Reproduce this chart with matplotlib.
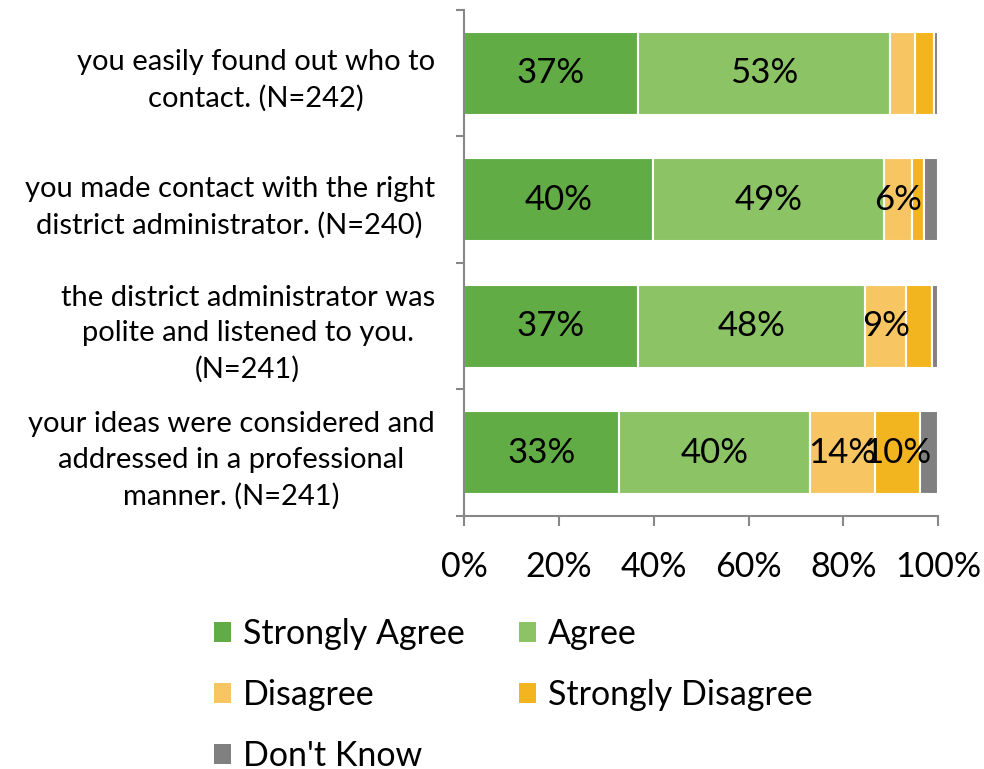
import numpy as np
import matplotlib.pyplot as plt
from matplotlib.patches import Patch

plt.rcParams['font.family'] = ['Lato', 'DejaVu Sans']

# Survey data (percent of respondents)
questions = [
    'you easily found out who to\ncontact. (N=242)',
    'you made contact with the right\ndistrict administrator. (N=240)',
    'the district administrator was\npolite and listened to you.\n(N=241)',
    'your ideas were considered and\naddressed in a professional\nmanner. (N=241)',
]
strongly_agree = [36.7, 39.9, 36.6, 32.7]
agree = [53.2, 48.7, 48.0, 40.3]
disagree = [5.3, 5.9, 8.6, 13.6]
strongly_disagree = [3.8, 2.4, 5.4, 9.6]
dont_know = [1.0, 3.1, 1.4, 3.8]

series = ['Strongly Agree', 'Agree', 'Disagree', 'Strongly Disagree', "Don't Know"]
values = [strongly_agree, agree, disagree, strongly_disagree, dont_know]
colors = ['#62AC46', '#8CC465', '#F7C562', '#F2B51F', '#808080']
show_labels = [True, True, True, True, False]

fig = plt.figure(figsize=(9.84, 7.69), dpi=100)
ax = fig.add_axes([0.4715, 0.329, 0.482, 0.658])

y = np.arange(len(questions))
left = np.zeros(len(questions))
for name, vals, col, lab in zip(series, values, colors, show_labels):
    vals = np.array(vals)
    ax.barh(y, vals, left=left, height=0.66, color=col, edgecolor='white',
            linewidth=1.5, label=name)
    if lab:
        for yi, l, v in zip(y, left, vals):
            if v >= 5.8:
                ax.text(l + v / 2, yi, f'{v:.0f}%', ha='center', va='center',
                        fontsize=25, color='black')
    left += vals

ax.set_xlim(0, 100)
ax.set_ylim(len(questions) - 0.5, -0.5)
ax.set_xticks(np.arange(0, 101, 20))
ax.set_xticklabels([f'{t}%' for t in range(0, 101, 20)], fontsize=24.5)
ax.set_yticks(y)
ax.set_yticklabels(questions, fontsize=21, multialignment='center', linespacing=1.45)
ax.set_yticks(np.arange(-0.5, len(questions)), minor=True)

ax.tick_params(axis='y', which='major', length=0, pad=21)
ax.tick_params(axis='y', which='minor', length=6, color='#878787', width=1.5)
ax.tick_params(axis='x', length=7, color='#878787', width=1.5, pad=18)
for s in ['top', 'right']:
    ax.spines[s].set_visible(False)
for s in ['left', 'bottom']:
    ax.spines[s].set_color('#878787')
    ax.spines[s].set_linewidth(1.5)

# legend is filled row by row in the reference
order = [0, 2, 4, 1, 3]
handles = [Patch(facecolor=colors[i], label=series[i]) for i in order]
fig.legend(handles=handles, loc='upper left', bbox_to_anchor=(0.186, 0.236),
           ncol=2, frameon=False, fontsize=24.5, handlelength=0.5, handleheight=0.5,
           handletextpad=0.35, columnspacing=1.6, labelspacing=0.85)

fig.savefig('out.png', dpi=100)
